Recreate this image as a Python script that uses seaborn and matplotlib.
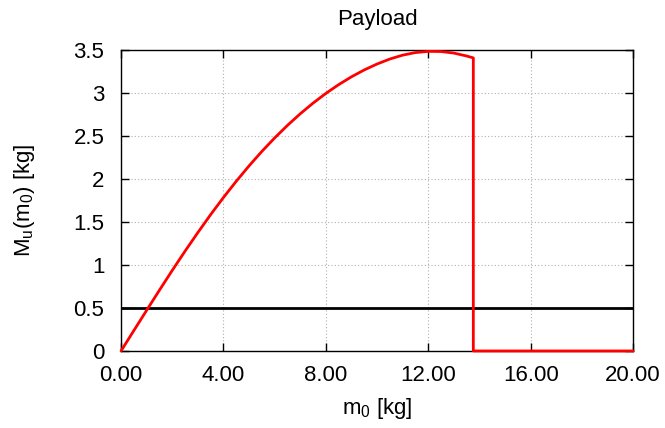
import matplotlib
matplotlib.use("Agg")
import matplotlib.pyplot as plt
from matplotlib.ticker import FormatStrFormatter, FuncFormatter
import seaborn as sns
import pandas as pd

# Payload curve M_u(m0): read at 0.5 kg steps up to the cut-off mass
m0 = [0.0, 0.5, 1.0, 1.5, 2.0, 2.5, 3.0, 3.5, 4.0, 4.5, 5.0, 5.5, 6.0, 6.5,
      7.0, 7.5, 8.0, 8.5, 9.0, 9.5, 10.0, 10.5, 11.0, 11.5, 12.0, 12.5,
      13.0, 13.5, 13.76, 13.76, 20.0]
payload = [0.0, 0.237, 0.473, 0.707, 0.937, 1.161, 1.377, 1.586, 1.785,
           1.974, 2.153, 2.321, 2.478, 2.624, 2.759, 2.883, 2.996, 3.098,
           3.189, 3.269, 3.338, 3.396, 3.441, 3.471, 3.485, 3.483, 3.465,
           3.431, 3.409, 0.0, 0.0]

# Constant reference level
ref_x = [0.0, 20.0]
ref_y = [0.5, 0.5]

x_ticks = [0, 4, 8, 12, 16, 20]
y_ticks = [0, 0.5, 1, 1.5, 2, 2.5, 3, 3.5]

sns.set_style("ticks")
plt.rcParams["font.family"] = ["Liberation Sans", "DejaVu Sans"]
plt.rcParams["mathtext.fontset"] = "custom"
plt.rcParams["mathtext.rm"] = "Liberation Sans"
for key in ("text.color", "axes.labelcolor", "xtick.color", "ytick.color"):
    plt.rcParams[key] = "black"

fig = plt.figure(figsize=(6.65, 4.28), dpi=100)
ax = fig.add_axes([0.182, 0.180, 0.770, 0.703])

curve = pd.DataFrame({"m0": m0, "Mu": payload})
ref = pd.DataFrame({"m0": ref_x, "Mu": ref_y})

sns.lineplot(data=ref, x="m0", y="Mu", ax=ax, color="black", linewidth=2.0,
             sort=False, estimator=None, zorder=3)
sns.lineplot(data=curve, x="m0", y="Mu", ax=ax, color="#ff0000", linewidth=2.0,
             sort=False, estimator=None, zorder=4, clip_on=False)

ax.set_xlim(0, 20)
ax.set_ylim(0, 3.5)
ax.set_xticks(x_ticks)
ax.set_yticks(y_ticks)
ax.xaxis.set_major_formatter(FormatStrFormatter("%.2f"))
ax.yaxis.set_major_formatter(FuncFormatter(lambda v, p: f"{v:g}"))

ax.grid(True, color="#b0b0b0", linestyle=(0, (1, 2)), linewidth=0.8)
ax.tick_params(direction="in", length=6, width=1, top=True, right=True,
               labelsize=16, colors="black")
ax.tick_params(axis="x", pad=10)
ax.tick_params(axis="y", pad=12)
for s in ax.spines.values():
    s.set_visible(True)
    s.set_color("black")
    s.set_linewidth(1.0)

ax.set_title("Payload", fontsize=16, pad=18)
ax.set_xlabel(r"m$_\mathregular{0}$ [kg]", fontsize=16, labelpad=7)
ax.set_ylabel(r"M$_\mathregular{u}$(m$_\mathregular{0}$) [kg]", fontsize=16, labelpad=26)

fig.savefig("out.png", dpi=100)
